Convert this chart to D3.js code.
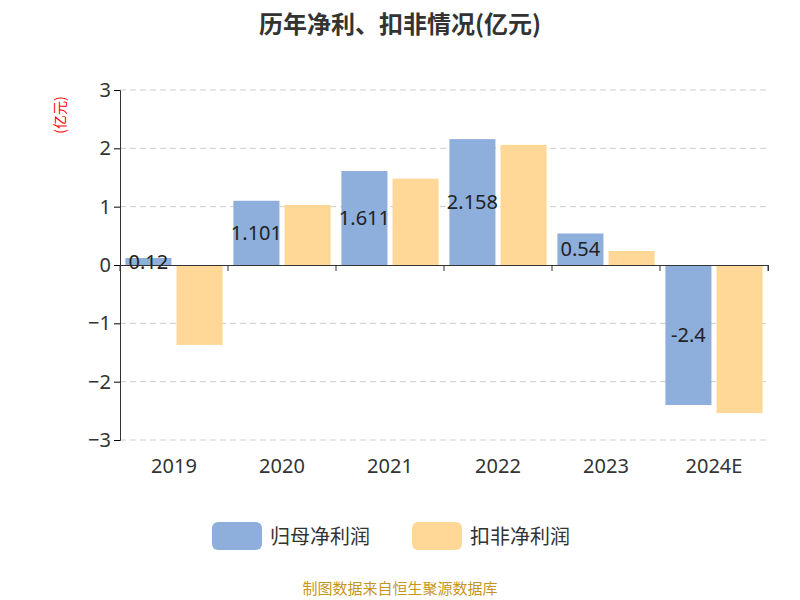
<!DOCTYPE html>
<html><head><meta charset="utf-8">
<script src="https://cdn.jsdelivr.net/npm/d3@7"></script>
<style>body{margin:0;background:#fff;font-family:"Noto Sans CJK SC","Noto Sans",sans-serif;}</style>
</head><body>
<svg id="c" width="800" height="600"></svg>
<script>
var years = ['2019', '2020', '2021', '2022', '2023', '2024E'];
var netProfit = [0.12, 1.101, 1.611, 2.158, 0.54, -2.4];
var deducted = [-1.37, 1.03, 1.48, 2.06, 0.24, -2.54];
var yTicks = [-3, -2, -1, 0, 1, 2, 3];

var svg = d3.select('#c');
var x = d3.scaleBand().domain(years).range([120, 768]).paddingInner(0.1).paddingOuter(0.05);
var y = d3.scaleLinear().domain([-3, 3]).range([440, 90]);
var sub = d3.scaleBand().domain([0, 1]).range([0, x.bandwidth()]).paddingInner(0.1);

svg.append('text').attr('x', 400).attr('y', 33).attr('text-anchor', 'middle')
	.attr('font-size', 24).attr('font-weight', 'bold').attr('fill', '#333').text('历年净利、扣非情况(亿元)');

// grid
svg.selectAll('.grid').data(yTicks.filter(function (d) { return d !== 0; })).enter().append('line')
	.attr('x1', 120).attr('x2', 768).attr('y1', y).attr('y2', y)
	.attr('stroke', '#ccc').attr('stroke-dasharray', '6,4');

var yAxis = svg.append('g').attr('transform', 'translate(120,0)')
	.call(d3.axisLeft(y).tickValues(yTicks).tickSize(6).tickFormat(d3.format('d')));
yAxis.select('.domain').attr('stroke', '#333');
yAxis.selectAll('text').attr('font-size', 20).attr('fill', '#333').attr('font-family', 'Noto Sans');

svg.append('text').attr('transform', 'translate(65,115) rotate(-90)').attr('text-anchor', 'middle')
	.attr('font-size', 14).attr('fill', 'red').text('(亿元)');

function bars(vals, i, color) {
	svg.selectAll('.b' + i).data(vals).enter().append('rect')
		.attr('x', function (d, k) { return x(years[k]) + sub(i); })
		.attr('width', sub.bandwidth())
		.attr('y', function (d) { return y(Math.max(0, d)); })
		.attr('height', function (d) { return Math.abs(y(d) - y(0)); })
		.attr('fill', color);
}
bars(netProfit, 0, '#8eaedb');
bars(deducted, 1, '#ffd797');

var xAxis = svg.append('g').attr('transform', 'translate(0,' + y(0) + ')')
	.call(d3.axisBottom(x).tickSize(6).tickFormat(''));
xAxis.select('.domain').attr('stroke', '#333');
xAxis.selectAll('.tick').remove();
var edges = years.map(function (d) { return x(d) - x.step() * x.paddingInner() / 2; }).concat([768]);
edges[0] = 120;
xAxis.selectAll('.edge').data(edges).enter().append('line')
	.attr('x1', function (d) { return d; }).attr('x2', function (d) { return d; })
	.attr('y1', 0).attr('y2', 6).attr('stroke', '#333');

svg.selectAll('.xl').data(years).enter().append('text')
	.attr('x', function (d) { return x(d) + x.bandwidth() / 2; }).attr('y', 473)
	.attr('text-anchor', 'middle').attr('font-size', 20).attr('fill', '#333')
	.attr('font-family', 'Noto Sans').text(function (d) { return d; });

svg.selectAll('.lbl').data(netProfit).enter().append('text')
	.attr('x', function (d, k) { return x(years[k]) + sub(0) + sub.bandwidth() / 2; })
	.attr('y', function (d) { return (y(d) + y(0)) / 2 + 7; })
	.attr('text-anchor', 'middle').attr('font-size', 20).attr('fill', '#222')
	.attr('font-family', 'Noto Sans').text(function (d) { return d; });

var legend = [['归母净利润', '#8eaedb', 212], ['扣非净利润', '#ffd797', 412]];
legend.forEach(function (l) {
	svg.append('rect').attr('x', l[2]).attr('y', 522).attr('width', 50).attr('height', 28)
		.attr('rx', 6).attr('fill', l[1]);
	svg.append('text').attr('x', l[2] + 58).attr('y', 544).attr('font-size', 20)
		.attr('fill', '#333').text(l[0]);
});

svg.append('text').attr('x', 400).attr('y', 594).attr('text-anchor', 'middle')
	.attr('font-size', 15).attr('fill', '#c8961e').text('制图数据来自恒生聚源数据库');
</script>
</body></html>
